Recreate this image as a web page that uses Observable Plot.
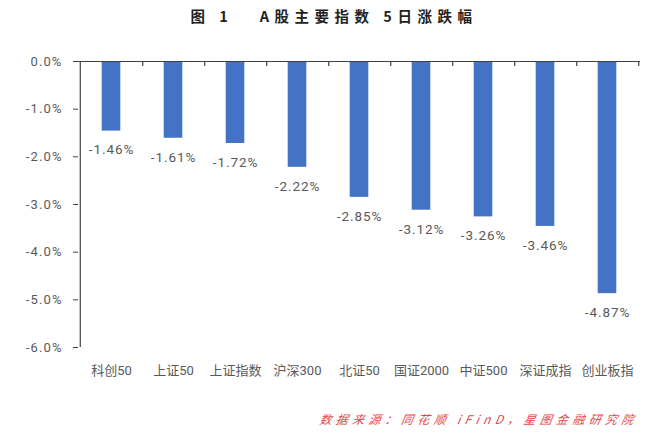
<!DOCTYPE html>
<html><head><meta charset="utf-8">
<script src="https://cdn.jsdelivr.net/npm/d3@7"></script>
<script src="https://cdn.jsdelivr.net/npm/@observablehq/plot@0.6"></script>
<style>
html,body{margin:0;padding:0;background:#fff;}
#wrap{position:relative;width:650px;height:435px;font-family:Roboto,"Noto Sans CJK SC",sans-serif;}
#title{position:absolute;top:5px;left:0;width:650px;text-align:center;padding-left:18px;box-sizing:border-box;font-family:"Noto Sans CJK SC",sans-serif;font-weight:bold;font-size:14.5px;letter-spacing:5.5px;color:#222;}
#caption{position:absolute;top:410px;right:12px;font-family:"Noto Sans CJK SC",sans-serif;font-style:italic;font-size:12px;letter-spacing:4.3px;color:#e8454a;transform:skewX(-10deg);}
g[aria-label="y-axis tick label"] text{letter-spacing:1.1px;}
g[aria-label="text"] text{letter-spacing:0.9px;}
</style></head>
<body>
<div id="wrap">
<div id="title">图 1&nbsp;&nbsp;&nbsp;A股主要指数 5日涨跌幅</div>
<div id="chart"></div>
<div id="caption">数据来源：同花顺 iFinD，星图金融研究院</div>
</div>
<script>
const categories = ["科创50","上证50","上证指数","沪深300","北证50","国证2000","中证500","深证成指","创业板指"];
const values = [-1.46,-1.61,-1.72,-2.22,-2.85,-3.12,-3.26,-3.46,-4.87];
const yTicks = [0,-1,-2,-3,-4,-5,-6];

const data = categories.map((c,i)=>({name:c, value:values[i]}));
const fmt = v => v.toFixed(2) + "%";
const yfmt = v => (v===0 ? "0.0" : v.toFixed(1)) + "%";

const W = 650, H = 435;
const mL = 78, mR = 10, mT = 61, mB = 88;
const step = (W - mL - mR) / categories.length;

const chart = Plot.plot({
  width: W, height: H,
  marginLeft: mL, marginRight: mR, marginTop: mT, marginBottom: mB,
  style: {fontFamily: 'Roboto,"Noto Sans CJK SC",sans-serif', background: "transparent"},
  x: {domain: categories, padding: 0, label: null},
  y: {domain: [-6, 0], label: null},
  marks: [
    Plot.barY(data, {x: "name", y: "value", fill: "#4472C4", insetLeft: 21.7, insetRight: 21.7}),
    Plot.ruleY([0], {stroke: "#404040", strokeWidth: 1.2}),
    Plot.axisX({anchor: "top", tickSize: -4, tickFormat: () => "", dx: step/2, stroke: "#404040", strokeWidth: 1.2}),
    Plot.axisX({anchor: "bottom", tickSize: 0, tickPadding: 18, fontSize: 13, fill: "#595959", color: "#595959"}),
    Plot.axisY({ticks: yTicks, tickFormat: yfmt, tickSize: 5, tickPadding: 11, fontSize: 13, color: "#595959", stroke: "#404040"}),
    Plot.ruleX([0], {x: () => categories[0], dx: -step/2, y1: 0, y2: -6, stroke: "#404040", strokeWidth: 1.2}),
    Plot.text(data, {x: "name", y: "value", text: d => fmt(d.value), dy: 19, fontSize: 13.5, fill: "#595959"})
  ]
});
chart.style.position = "absolute";
chart.style.top = "0";
chart.style.left = "0";
document.getElementById("chart").appendChild(chart);
</script>
</body></html>
